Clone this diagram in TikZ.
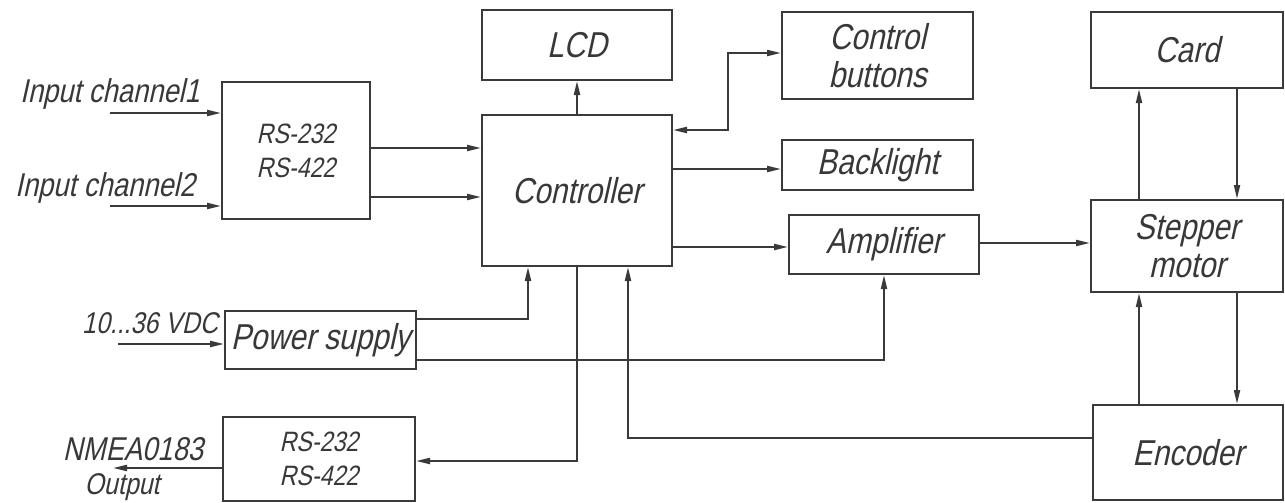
\documentclass[tikz,border=0pt]{standalone}
\usepackage{fontspec}
\setmainfont{Liberation Sans}[FakeSlant=0.22, FakeStretch=0.83]
\usetikzlibrary{arrows.meta}
\definecolor{ink}{HTML}{3A3A3A}
\definecolor{txt}{HTML}{383838}
\tikzset{
  box/.style={draw=ink, line width=2pt, rectangle, inner sep=0pt, align=center, text=txt,
    font=\fontsize{36}{36}\selectfont},
  smallbox/.style={box, font=\fontsize{28}{28}\selectfont},
  lbl/.style={inner sep=0pt, text=txt, anchor=base},
  conn/.style={draw=ink, line width=2pt},
  arr/.style={conn, -{Triangle[length=14pt,width=6pt]}},
  darr/.style={conn, {Triangle[length=14pt,width=6pt]}-{Triangle[length=14pt,width=6pt]}}
}
\begin{document}
\begin{tikzpicture}[x=1pt,y=-1pt]
\useasboundingbox (0,0) rectangle (1285,503);
% boxes
\node[smallbox, minimum width=148pt, minimum height=137pt] (rs1) at (296,150.5) {RS-232\\[6pt]RS-422};
\node[box, minimum width=190pt, minimum height=70pt] (lcd) at (577,45) {LCD};
\node[box, minimum width=190pt, minimum height=151pt] (ctrl) at (577,190.5) {Controller};
\node[box, minimum width=191pt, minimum height=87pt] (btn) at (877.5,55.5) {Control\\[2pt]buttons};
\node[box, minimum width=191pt, minimum height=50pt] (back) at (877.5,165) {Backlight};
\node[box, minimum width=190pt, minimum height=59pt] (amp) at (884,244.5) {Amplifier};
\node[box, minimum width=191pt, minimum height=58pt] (ps) at (320.5,340) {Power supply};
\node[smallbox, minimum width=192pt, minimum height=84pt] (rs2) at (319,459) {RS-232\\[6pt]RS-422};
\node[box, minimum width=192pt, minimum height=76pt] (card) at (1187,50) {Card};
\node[box, minimum width=192pt, minimum height=92pt] (step) at (1187,246) {Stepper\\[2pt]motor};
\node[box, minimum width=190pt, minimum height=95pt] (enc) at (1188,452.5) {Encoder};
% labels
\node[lbl, font=\fontsize{33}{33}\selectfont] (l1) at (110,102) {Input channel1};
\node[lbl, font=\fontsize{33}{33}\selectfont] (l2) at (105,196) {Input channel2};
\node[lbl, font=\fontsize{30}{30}\selectfont] (l3) at (150,333) {10...36 VDC};
\node[lbl, font=\fontsize{33}{33}\selectfont] (l4) at (133,460) {NMEA0183};
\node[lbl, font=\fontsize{30}{30}\selectfont] (l5) at (122,494) {Output};
% free ends
\coordinate (in1) at (110,113);
\coordinate (in2) at (110,206);
\coordinate (vdc) at (118,344);
\coordinate (nmea) at (113,468);
% connectors
\draw[arr] (in1) -- (rs1.west |- in1);
\draw[arr] (in2) -- (rs1.west |- in2);
\draw[arr] (rs1.east |- 0,148) -- (ctrl.west |- 0,148);
\draw[arr] (rs1.east |- 0,197) -- (ctrl.west |- 0,197);
\draw[arr] (ctrl.north) -- (lcd.south);
\draw[darr] (ctrl.east |- 0,130) -- (728,130) -- (728,53) -- (btn.west |- 0,53);
\draw[arr] (ctrl.east |- 0,169) -- (back.west |- 0,169);
\draw[arr] (ctrl.east |- 0,247) -- (amp.west |- 0,247);
\draw[arr] (vdc) -- (ps.west |- vdc);
\draw[arr] (ps.east |- 0,319) -- (528,319) -- (ctrl.south -| 528,0);
\draw[arr] (ps.east |- 0,360) -- (884,360) -- (amp.south);
\draw[arr] (ctrl.south) -- (577,461) -- (rs2.east |- 0,461);
\draw[arr] (rs2.west |- nmea) -- (nmea);
\draw[arr] (enc.west |- 0,438) -- (628,438) -- (ctrl.south -| 628,0);
\draw[arr] (amp.east |- 0,243) -- (step.west |- 0,243);
\draw[arr] (step.north -| 1139,0) -- (card.south -| 1139,0);
\draw[arr] (card.south -| 1237,0) -- (step.north -| 1237,0);
\draw[arr] (enc.north -| 1139,0) -- (step.south -| 1139,0);
\draw[arr] (step.south -| 1237,0) -- (enc.north -| 1237,0);
\end{tikzpicture}
\end{document}
